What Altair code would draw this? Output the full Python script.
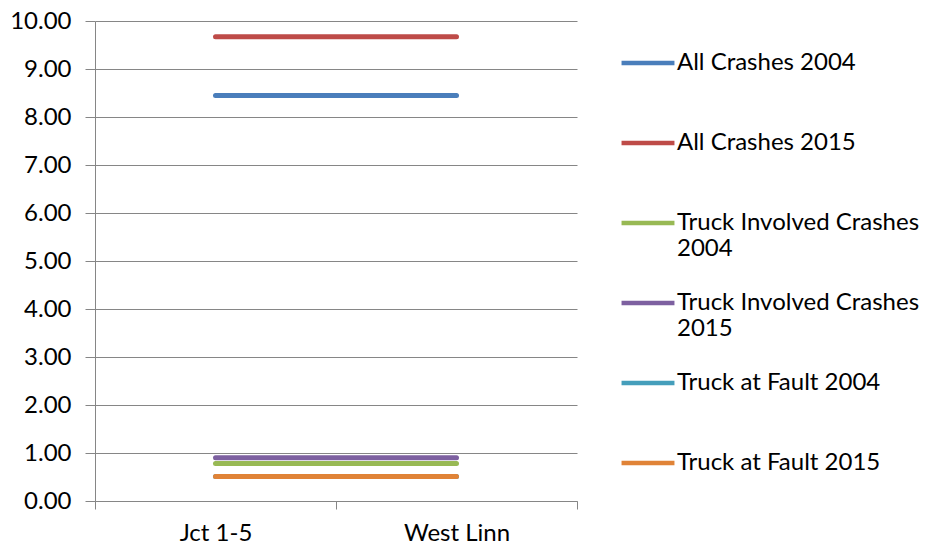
import altair as alt
import pandas as pd

categories = ["Jct 1-5", "West Linn"]
series = [
    "All Crashes 2004",
    "All Crashes 2015",
    "Truck Involved Crashes 2004",
    "Truck Involved Crashes 2015",
    "Truck at Fault 2004",
    "Truck at Fault 2015",
]
all_2004 = [8.45, 8.45]
all_2015 = [9.67, 9.67]
truck_inv_2004 = [0.78, 0.78]
truck_inv_2015 = [0.90, 0.90]
truck_fault_2004 = [0.51, 0.51]
truck_fault_2015 = [0.51, 0.51]
colors = ["#4A7EBB", "#BE4B48", "#98B954", "#7D60A0", "#459EBB", "#E08337"]

values = [all_2004, all_2015, truck_inv_2004, truck_inv_2015, truck_fault_2004, truck_fault_2015]
rows = []
for name, vals in zip(series, values):
    for c, v in zip(categories, vals):
        rows.append({"Location": c, "Series": name, "Value": v})
df = pd.DataFrame(rows)

FONT = "Lato"
FS = 24
label_expr = (
    "datum.label == 'Truck Involved Crashes 2004' ? ['Truck Involved Crashes', '2004'] : "
    "datum.label == 'Truck Involved Crashes 2015' ? ['Truck Involved Crashes', '2015'] : [datum.label, '']"
)

chart = alt.Chart(df).mark_line(strokeWidth=5, strokeCap="round").encode(
    x=alt.X(
        "Location:N",
        sort=categories,
        bandPosition=0.5,
        scale=alt.Scale(type="band", paddingInner=0, paddingOuter=0),
        axis=alt.Axis(
            title=None, labelAngle=0, tickBand="extent", tickSize=8,
            labelPadding=12, domainColor="#868686", tickColor="#868686",
            labelFont=FONT, labelFontSize=FS, labelColor="#000000",
        ),
    ),
    y=alt.Y(
        "Value:Q",
        scale=alt.Scale(domain=[0, 10], nice=False),
        axis=alt.Axis(
            title=None, values=list(range(0, 11)), format=".2f",
            tickSize=10, labelPadding=14, domainColor="#868686", tickColor="#868686",
            gridColor="#868686", labelFont=FONT, labelFontSize=FS, labelColor="#000000",
        ),
    ),
    color=alt.Color(
        "Series:N",
        sort=series,
        scale=alt.Scale(domain=series, range=colors),
        legend=alt.Legend(
            title=None, orient="none", legendX=524, legendY=13,
            symbolType="stroke", symbolSize=2800, symbolStrokeWidth=4.5,
            labelFont=FONT, labelFontSize=FS, labelColor="#000000", labelLimit=400,
            labelExpr=label_expr, padding=0, rowPadding=13, labelOffset=0,
        ),
    ),
).properties(
    width=482, height=480,
    padding={"left": 1, "top": 1, "right": 0, "bottom": 0},
).configure_view(stroke=None).configure_axis(domainWidth=1, gridWidth=1, tickWidth=1)

chart.save("out.html", embed_options={"renderer": "svg", "actions": False})
